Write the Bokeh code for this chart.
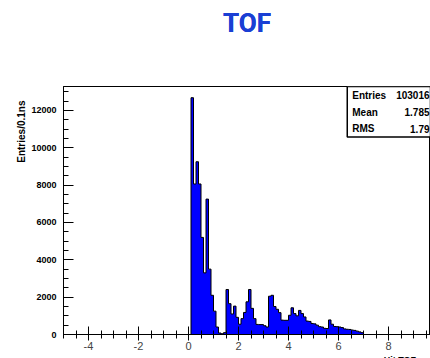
from bokeh.plotting import figure
from bokeh.models import FixedTicker, Label, BoxAnnotation, Range1d, Title, LinearAxis
from bokeh.embed import file_html
from bokeh.resources import INLINE

# ---------------- data ----------------
bin_width = 0.1
bin_low = [round(i * bin_width, 1) for i in range(70)]   # 0.0 ... 6.9 ns
counts = [
    0, 12680, 8060, 9250, 8060, 5200, 3300, 7250, 3500, 2100,
    1250, 400, 80, 40, 100, 2410, 1650, 1100, 1520, 920,
    550, 850, 1180, 1750, 2410, 1400, 850, 540, 530, 530,
    470, 400, 2050, 2100, 1500, 1350, 1170, 770, 760, 760,
    1030, 1430, 1120, 1000, 1290, 1120, 940, 720, 700, 590,
    570, 500, 420, 400, 330, 320, 780, 550, 430, 420,
    400, 370, 300, 280, 270, 240, 220, 180, 140, 100,
]
x_ticks = [-4, -2, 0, 2, 4, 6, 8]
x_minor = [-5 + 0.5 * i for i in range(30)]
y_ticks = [0, 2000, 4000, 6000, 8000, 10000, 12000]
y_minor = [500 * i for i in range(27)]
stats_names = ["Entries", "Mean", "RMS"]
stats_values = ["103016", "1.785", "1.79"]
title_text = "TOF"
x_label = "Hit TOF, ns"
y_label = "Entries/0.1ns"

edges = bin_low + [round(bin_low[-1] + bin_width, 1)]
heights = counts + [0]

# ---------------- figure ----------------
p = figure(frame_width=367, frame_height=248, output_backend="svg",
           toolbar_location=None,
           x_range=Range1d(-5, 9.68), y_range=Range1d(0, 13280),
           min_border_left=63, min_border_right=0, min_border_top=0,
           min_border_bottom=0)
p.background_fill_color = "white"
p.border_fill_color = "white"
p.outline_line_color = "black"
p.outline_line_width = 1
p.grid.visible = False

title = Title(text=title_text, align="center", text_font="Roboto",
              text_font_style="bold", text_font_size="26px",
              text_color="#1a3fd4", standoff=11)
p.title = title

# empty spacer between the title and the frame (no ticks, no labels)
spacer = LinearAxis(ticker=FixedTicker(ticks=[], minor_ticks=[]),
                    axis_line_color=None, major_tick_line_color=None,
                    minor_tick_line_color=None, major_tick_in=0,
                    major_tick_out=0, minor_tick_in=0, minor_tick_out=0,
                    major_label_text_font_size="0px")
p.above = [spacer, title]

p.varea_step(x=edges, y1=[0] * len(edges), y2=heights, step_mode="after",
             fill_color="#0000ff")
p.step(x=edges, y=heights, mode="after", line_color="black", line_width=1)

tick_font = "Liberation Sans"
for ax in (p.xaxis[0], p.yaxis[0]):
    ax.axis_line_color = "black"
    ax.major_tick_line_color = "black"
    ax.minor_tick_line_color = "black"
    ax.major_tick_out = 0
    ax.minor_tick_out = 0
    ax.major_label_text_font = tick_font
    ax.major_label_text_font_style = "bold"
    ax.major_label_text_font_size = "9px"
    ax.major_label_text_color = "black"

xax = p.below[0]
xax.ticker = FixedTicker(ticks=x_ticks, minor_ticks=x_minor)
xax.major_label_overrides = {t: str(t) for t in x_ticks}
xax.major_tick_in = 8
xax.minor_tick_in = 4
xax.major_label_standoff = 1

yax = p.left[0]
yax.ticker = FixedTicker(ticks=y_ticks, minor_ticks=y_minor)
yax.major_label_overrides = {t: str(t) for t in y_ticks}
yax.major_tick_in = 10
yax.minor_tick_in = 5
yax.major_label_standoff = 7

# axis titles, placed at the far end of each axis
p.add_layout(Title(text=y_label, align="right", text_font=tick_font,
                   text_font_style="bold", text_font_size="10px",
                   text_color="black", standoff=3, offset=14), "left")
p.add_layout(Title(text=x_label, align="right", text_font=tick_font,
                   text_font_style="bold", text_font_size="9px",
                   text_color="black", standoff=0), "below")

# stats box
p.add_layout(BoxAnnotation(left=6.35, bottom=10570, top=13280,
                           fill_color="white", fill_alpha=1.0,
                           line_color="black", line_width=1.5, line_alpha=1.0))
rows_y = [12800, 11910, 11030]
for name, val, yy in zip(stats_names, stats_values, rows_y):
    p.add_layout(Label(x=6.55, y=yy, text=name, text_align="left",
                       text_baseline="middle", text_font=tick_font,
                       text_font_style="bold", text_font_size="10px",
                       text_color="black"))
    p.add_layout(Label(x=9.64, y=yy, text=val, text_align="right",
                       text_baseline="middle", text_font=tick_font,
                       text_font_style="bold", text_font_size="10px",
                       text_color="black"))

open("out.html", "w").write(file_html(p, INLINE))
